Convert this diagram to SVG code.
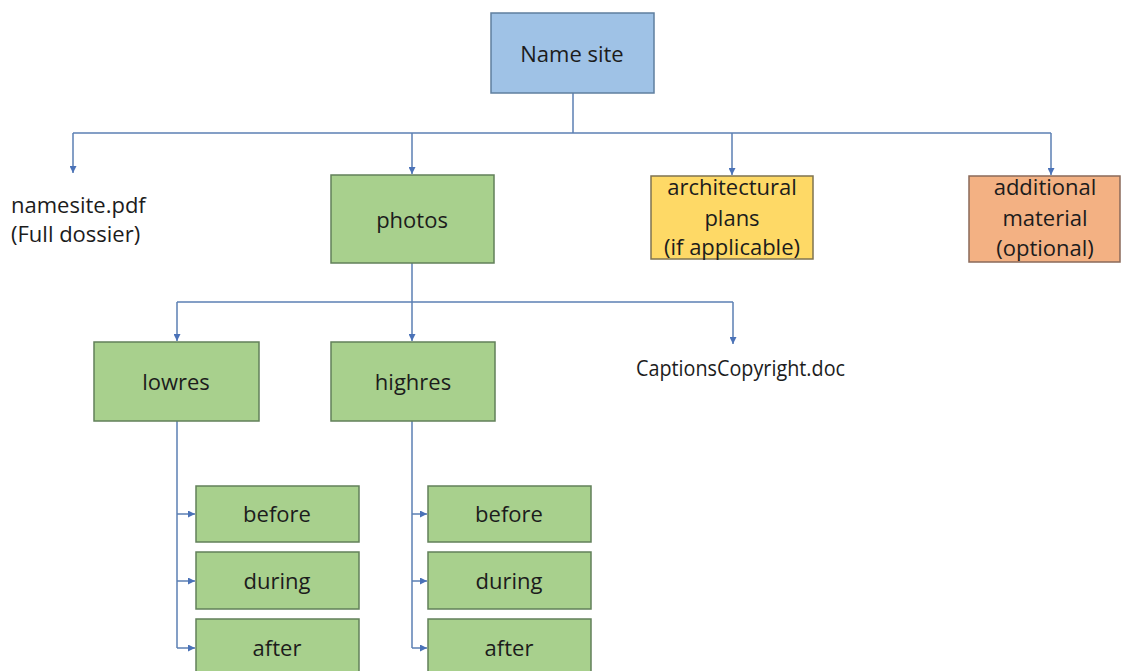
<svg xmlns="http://www.w3.org/2000/svg" width="1123" height="671" viewBox="0 0 1123 671">
<style>
.t{font-family:"Open Sans","Liberation Sans",sans-serif;font-size:22px;fill:#1c1c1c;text-anchor:middle}
.l{text-anchor:start}
.c{fill:none;stroke:#5b7fb3;stroke-width:1.5}
.blue{fill:#9fc2e6;stroke:#5f7f9f;stroke-width:1.5}
.green{fill:#a8d08d;stroke:#62805a;stroke-width:1.5}
.yellow{fill:#fed966;stroke:#7f7350;stroke-width:1.5}
.orange{fill:#f3b183;stroke:#8a6a5a;stroke-width:1.5}
</style>
<defs>
<marker id="a" viewBox="0 0 10 10" refX="10" refY="5" markerWidth="7" markerHeight="7" markerUnits="userSpaceOnUse" orient="auto">
<path d="M0,0 L10,5 L0,10 z" fill="#4a72b8"/>
</marker>
</defs>
<rect width="1123" height="671" fill="#fff"/>
<g id="connectors">
<path class="c" d="M573,93 V133"/>
<path class="c" d="M73,133 H1051"/>
<path class="c" d="M73,133 V173" marker-end="url(#a)"/>
<path class="c" d="M412,133 V174" marker-end="url(#a)"/>
<path class="c" d="M732,133 V175" marker-end="url(#a)"/>
<path class="c" d="M1051,133 V175" marker-end="url(#a)"/>
<path class="c" d="M412,263 V302"/>
<path class="c" d="M177,302 H733"/>
<path class="c" d="M177,302 V341" marker-end="url(#a)"/>
<path class="c" d="M412,302 V341" marker-end="url(#a)"/>
<path class="c" d="M733,302 V344" marker-end="url(#a)"/>
<path class="c" d="M177,421 V648"/>
<path class="c" d="M177,514 H195" marker-end="url(#a)"/>
<path class="c" d="M177,581 H195" marker-end="url(#a)"/>
<path class="c" d="M177,648 H195" marker-end="url(#a)"/>
<path class="c" d="M412,421 V648"/>
<path class="c" d="M412,514 H427" marker-end="url(#a)"/>
<path class="c" d="M412,581 H427" marker-end="url(#a)"/>
<path class="c" d="M412,648 H427" marker-end="url(#a)"/>
</g>
<g id="name-site"><rect class="blue" x="491" y="13" width="163" height="80"/><text class="t" x="572" y="62">Name site</text></g>
<g id="namesite-pdf"><text class="t l" x="11" y="213">namesite.pdf</text><text class="t l" x="11" y="242">(Full dossier)</text></g>
<g id="photos"><rect class="green" x="331" y="175" width="163" height="88"/><text class="t" x="412" y="228">photos</text></g>
<g id="architectural"><rect class="yellow" x="651" y="176" width="162" height="83"/><text class="t" x="732" y="195">architectural</text><text class="t" x="732" y="226">plans</text><text class="t" x="732" y="255">(if applicable)</text></g>
<g id="additional"><rect class="orange" x="969" y="176" width="151" height="86"/><text class="t" x="1045" y="195">additional</text><text class="t" x="1045" y="226">material</text><text class="t" x="1045" y="256">(optional)</text></g>
<g id="lowres"><rect class="green" x="94" y="342" width="165" height="79"/><text class="t" x="176" y="390">lowres</text></g>
<g id="highres"><rect class="green" x="331" y="342" width="164" height="79"/><text class="t" x="413" y="390">highres</text></g>
<g id="captions"><text class="t l" x="636" y="376" textLength="209" lengthAdjust="spacingAndGlyphs">CaptionsCopyright.doc</text></g>
<g id="low-before"><rect class="green" x="196" y="486" width="163" height="56"/><text class="t" x="277" y="522">before</text></g>
<g id="low-during"><rect class="green" x="196" y="552" width="163" height="57"/><text class="t" x="277" y="589">during</text></g>
<g id="low-after"><rect class="green" x="196" y="619" width="163" height="57"/><text class="t" x="277" y="656">after</text></g>
<g id="high-before"><rect class="green" x="428" y="486" width="163" height="56"/><text class="t" x="509" y="522">before</text></g>
<g id="high-during"><rect class="green" x="428" y="552" width="163" height="57"/><text class="t" x="509" y="589">during</text></g>
<g id="high-after"><rect class="green" x="428" y="619" width="163" height="57"/><text class="t" x="509" y="656">after</text></g>
</svg>
